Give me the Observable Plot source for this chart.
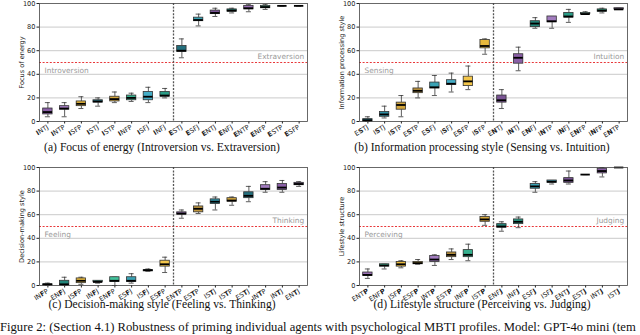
<!DOCTYPE html>
<html>
<head>
<meta charset="utf-8">
<script src="https://cdn.jsdelivr.net/npm/d3@7"></script>
<script src="https://cdn.jsdelivr.net/npm/@observablehq/plot@0.6"></script>
<style>
  body { margin: 0; background: #fff; }
  #root { position: relative; width: 640px; height: 335px; overflow: hidden; background: #fff; }
  .panel { position: absolute; }
  .cap { position: absolute; font-family: "Liberation Serif", serif; font-size: 11.6px; color: #111; white-space: nowrap; transform: translateX(-50%); }
  #fig { position: absolute; left: 0px; top: 321px; font-family: "Liberation Serif", serif; font-size: 12.65px; line-height: 13px; color: #111; white-space: nowrap; }
</style>
</head>
<body>
<div id="root"></div>
<script>
// ---------- data (min, q1, median, q3, max) ----------
const typesA = ["INTJ","INTP","ISFP","ISTJ","ISTP","INFP","ISFJ","INFJ","ESTJ","ESFJ","ENTJ","ENFJ","ENTP","ENFP","ESTP","ESFP"];
const statsA = [[4,6,8,11,16],[4,10,11,13,16],[11,13,15,17,21],[13,16,17,18,20],[16,17,19,21,25],[17,18,20,22,24],[16,18,21,25,29],[20,21,22,25,28],
                [54,59,60,64,70],[81,85,86,88,91],[89,91,92,94,96],[92,93,94,95,96],[93,95,96,98,99],[95,96,97,98,99],[98,98,98,98,98],[98,98,98,98,98]];

const typesB = ["ESTJ","ISTJ","ISTP","ESTP","ESFJ","ISFJ","ESFP","ISFP","ENTJ","INTJ","ENFJ","INTP","INFJ","ENFP","INFP","ENTP"];
const statsB = [[0,0,1,2,4],[3,4,6,8,13],[4,10,14,16,22],[20,24,26,28,34],[22,28,29,33,39],[25,31,32,35,41],[27,30,34,38,47],[57,62,64,69,70],
                [11,16,18,22,27],[43,49,54,57,63],[79,80,83,85,88],[79,84,85,89,89],[84,88,89,92,95],[91,91,91,92,93],[92,93,94,95,96],[95,95,95,96,96]];

const typesC = ["INFP","ENFJ","ISFP","INFJ","ENFP","ESFJ","ISFJ","ESFP","ENTP","ESTP","ISTJ","ISTP","ESTJ","INTP","INTJ","ENTJ"];
const statsC = [[0,0,1,1,2],[0,0,1,4,7],[1,2,4,6,7],[2,3,3,4,4],[0,3,4,7,7],[2,3,4,7,10],[12,12,13,13,14],[11,16,18,21,24],
                [57,60,61,62,64],[61,62,65,67,70],[64,69,71,73,75],[68,71,72,74,75],[71,74,76,79,84],[79,81,82,85,88],[79,81,83,86,89],[84,85,86,87,88]];

const typesD = ["ENTP","ENFP","ISFP","ESFP","INTP","ESTP","INFP","ISTP","ENFJ","INFJ","ESFJ","ISFJ","ENTJ","ESTJ","INTJ","ISTJ"];
const statsD = [[6,8,9,11,14],[14,16,17,18,18],[15,16,18,20,21],[18,18,19,20,22],[17,20,22,25,26],[22,24,26,28,31],[21,24,26,30,35],[51,54,56,58,60],
                [46,49,50,52,54],[49,52,54,56,58],[79,82,84,86,88],[86,87,88,89,89],[86,87,89,91,97],[94,94,94,94,94],[92,95,97,99,100],[100,100,100,100,100]];

const typeColors = {
  INTJ:"#8a5fa6", INTP:"#a27cbf", ENTJ:"#7a5494", ENTP:"#9a70b5",
  INFJ:"#2a9c86", INFP:"#35b08e", ENFJ:"#23867a", ENFP:"#43c29c",
  ISTJ:"#2f8ea3", ISFJ:"#44adc6", ESTJ:"#246f7d", ESFJ:"#3aa2b4",
  ISTP:"#d3a63c", ISFP:"#e8b93d", ESTP:"#c0963e", ESFP:"#f3c64a"
};

const yLabels = ["Focus of energy","Information processing style","Decision-making style","Lifestyle structure"];
const leftNotes = ["Introversion","Sensing","Feeling","Perceiving"];
const rightNotes = ["Extraversion","Intuition","Thinking","Judging"];
const captions = ["(a) Focus of energy (Introversion vs. Extraversion)",
                  "(b) Information processing style (Sensing vs. Intuition)",
                  "(c) Decision-making style (Feeling vs. Thinking)",
                  "(d) Lifestyle structure (Perceiving vs. Judging)"];
const boldIndex = [0,1,2,3];
const yTicks = [0,20,40,60,80,100];
const gridTicks = [20,40,60,80];
const threshold = [50];
const figCaption = "Figure 2: (Section 4.1) Robustness of priming individual agents with psychological MBTI profiles. Model: GPT-4o mini (tem";

function panel(types, stats, k) {
  const data = types.map((t, i) => ({i, t, min: stats[i][0], q1: stats[i][1], med: stats[i][2], q3: stats[i][3], max: stats[i][4]}));
  const split = [(types.length - 1) / 2];
  const W = 0.28, C = 0.15;
  const svg = Plot.plot({
    width: 320, height: 145,
    marginTop: 3, marginLeft: 39, marginRight: 13, marginBottom: 24,
    x: {type: "linear", domain: [-0.5, types.length - 0.5], axis: null},
    y: {domain: [0, 100], axis: null},
    style: {fontFamily: "DejaVu Sans", fontSize: "6.6px", background: "transparent", color: "#222"},
    marks: [
      Plot.gridY(gridTicks, {stroke: "#c4c4c4", strokeOpacity: 1, strokeWidth: 0.9}),
      Plot.ruleY(threshold, {stroke: "#e8383a", strokeDasharray: "2,1.6", strokeWidth: 1}),
      Plot.ruleX(split, {stroke: "#555", strokeDasharray: "2,1.4", strokeWidth: 1.3}),
      Plot.ruleX(data, {x: "i", y1: "min", y2: "q1", stroke: "#333", strokeWidth: 0.8}),
      Plot.ruleX(data, {x: "i", y1: "q3", y2: "max", stroke: "#333", strokeWidth: 0.8}),
      Plot.ruleY(data, {y: "min", x1: d => d.i - C, x2: d => d.i + C, stroke: "#333", strokeWidth: 0.8}),
      Plot.ruleY(data, {y: "max", x1: d => d.i - C, x2: d => d.i + C, stroke: "#333", strokeWidth: 0.8}),
      Plot.rect(data, {x1: d => d.i - W, x2: d => d.i + W, y1: "q1", y2: "q3", fill: d => typeColors[d.t], stroke: "#333", strokeWidth: 0.8}),
      Plot.ruleY(data, {y: "med", x1: d => d.i - W, x2: d => d.i + W, stroke: "#000", strokeWidth: 1.8}),
      Plot.text([leftNotes[k]], {x: -0.2, y: 43, text: d => d, textAnchor: "start", fill: "#9a9a9a", fontSize: 7.4}),
      Plot.text([rightNotes[k]], {x: types.length - 0.7, y: 55, text: d => d, textAnchor: "end", fill: "#9a9a9a", fontSize: 7.4}),
      Plot.axisX({ticks: d3.range(types.length), tickFormat: i => types[i], tickRotate: -32, tickSize: 2.5, tickPadding: 2.5, fontSize: 6.6, label: null}),
      Plot.axisY({ticks: yTicks, tickSize: 2.5, tickPadding: 1.5, fontSize: 6.6, label: yLabels[k], labelAnchor: "center", labelOffset: 20, labelArrow: "none"}),
      Plot.frame({stroke: "#444", strokeWidth: 0.8})
    ]
  });
  // bold the dimension letter in each tick label
  svg.querySelectorAll('g[aria-label="x-axis tick label"] text').forEach(t => {
    const s = t.textContent;
    t.textContent = "";
    [...s].forEach((ch, j) => {
      const ts = document.createElementNS("http://www.w3.org/2000/svg", "tspan");
      ts.textContent = ch;
      if (j === boldIndex[k]) ts.setAttribute("font-weight", "bold");
      t.appendChild(ts);
    });
  });
  return svg;
}

const root = document.getElementById("root");
const layout = [{left: 0, top: 0, cap: 149}, {left: 320, top: 0, cap: 149}, {left: 0, top: 164, cap: 306}, {left: 320, top: 164, cap: 306}];
const allTypes = [typesA, typesB, typesC, typesD];
const allStats = [statsA, statsB, statsC, statsD];
layout.forEach((L, k) => {
  const div = document.createElement("div");
  div.className = "panel";
  div.style.left = L.left + "px";
  div.style.top = L.top + "px";
  div.appendChild(panel(allTypes[k], allStats[k], k));
  root.appendChild(div);
  const cap = document.createElement("div");
  cap.className = "cap";
  cap.textContent = captions[k];
  cap.style.left = (L.left + 162) + "px";
  cap.style.top = (L.cap - 8) + "px";
  root.appendChild(cap);
});
const fig = document.createElement("div");
fig.id = "fig";
fig.textContent = figCaption;
root.appendChild(fig);
</script>
</body>
</html>
